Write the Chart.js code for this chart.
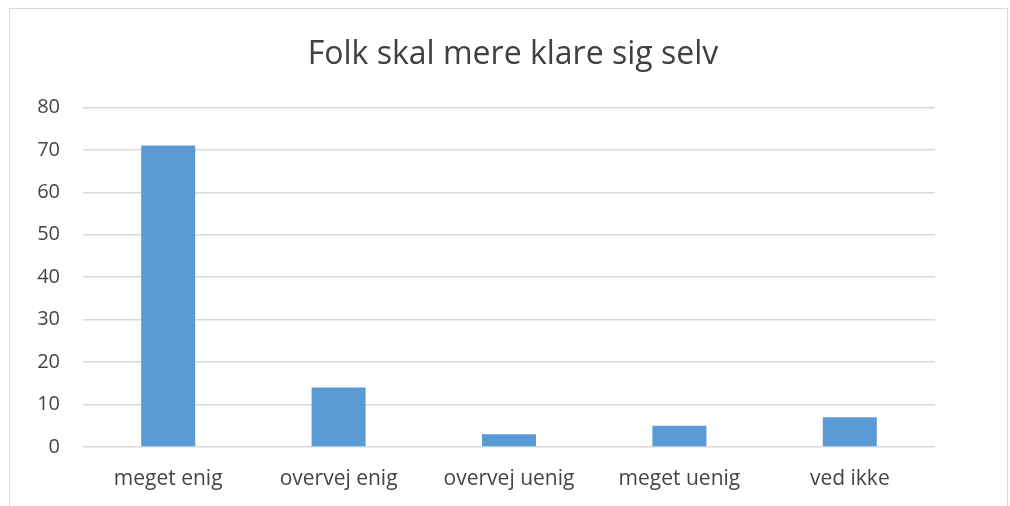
<!DOCTYPE html>
<html>
<head>
<meta charset="utf-8">
<script src="https://cdn.jsdelivr.net/npm/chart.js@4"></script>
<style>
  html, body { margin: 0; padding: 0; background: #fff; overflow: hidden; }
  #wrap { position: relative; width: 1010px; height: 506px; }
  #frame { position: absolute; left: 9px; top: 8px; width: 997px; height: 520px; border: 1px solid #d9d9d9; }
  canvas { position: absolute; left: 0; top: 0; }
</style>
</head>
<body>
<div id="wrap">
  <div id="frame"></div>
  <canvas id="BarChart" width="1010" height="506"></canvas>
</div>
<script>
// svar-kategorier og antal
var categories = ["meget enig", "overvej enig", "overvej uenig", "meget uenig", "ved ikke"];
var values = [71, 14, 3, 5, 7];
var yTicks = [0, 10, 20, 30, 40, 50, 60, 70, 80];

var ctx = document.getElementById("BarChart");
var BarChart = new Chart(ctx, {
  type: 'bar',
  data: {
    labels: categories,
    datasets: [{
      data: values,
      backgroundColor: "#5B9BD5",
      borderWidth: 0,
      barPercentage: 0.317,
      categoryPercentage: 1
    }]
  },
  options: {
    responsive: false,
    animation: false,
    layout: { padding: { top: 30, right: 0, bottom: 9, left: 16 } },
    plugins: {
      legend: { display: false },
      tooltip: { enabled: false },
      title: {
        display: true,
        text: 'Folk skal mere klare sig selv',
        color: '#404040',
        font: { family: 'Open Sans', size: 32, weight: 'normal' },
        padding: { top: 6, bottom: 33 }
      }
    },
    scales: {
      x: {
        grid: { display: false, drawTicks: false },
        border: { display: false },
        ticks: { color: '#454545', font: { family: 'Open Sans', size: 21 }, padding: 19, maxRotation: 0 },
        afterFit: function (s) { s.height = 50; }
      },
      y: {
        min: 0,
        max: 80,
        afterBuildTicks: function (s) { s.ticks = yTicks.map(function (v) { return { value: v }; }); },
        grid: { color: '#d9d9d9', lineWidth: 1.5, drawTicks: false },
        border: { display: false },
        ticks: { color: '#454545', font: { family: 'Open Sans', size: 20 }, padding: 23 },
        afterFit: function (s) { s.width = 67; }
      },
      // tom akse til højre, så titlen centreres over hele figuren
      yRight: {
        position: 'right',
        grid: { display: false, drawTicks: false },
        border: { display: false },
        ticks: { display: false },
        afterFit: function (s) { s.width = 75; }
      }
    }
  }
});
</script>
</body>
</html>
